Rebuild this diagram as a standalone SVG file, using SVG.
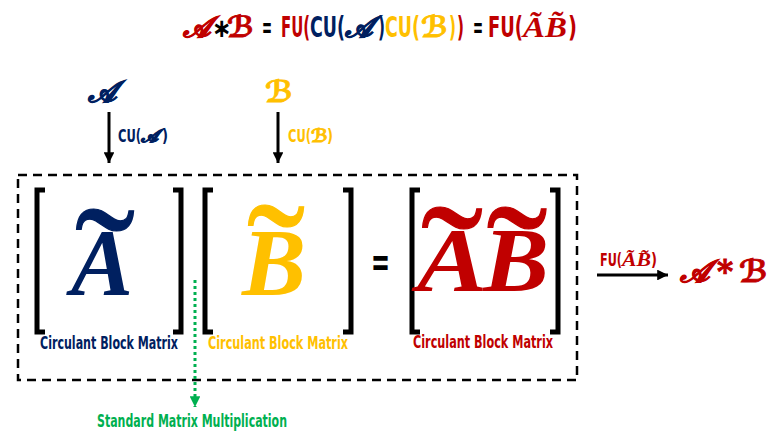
<svg xmlns="http://www.w3.org/2000/svg" width="768" height="434" viewBox="0 0 768 434">
<defs>
<style>
text{stroke-width:0}
.cond{font-family:'Liberation Sans Narrow','DejaVu Sans Condensed','DejaVu Sans',sans-serif;font-weight:bold}
.scr{font-family:'DejaVu Serif','DejaVu Sans','Noto Sans',serif;font-style:italic;font-weight:bold;stroke-width:0.9}
.big{font-family:'Liberation Serif','DejaVu Serif',serif;font-style:italic;font-weight:bold}
.tl{font-family:'Liberation Serif','DejaVu Serif',serif;text-anchor:middle;stroke-width:1.2}
.red{fill:#C00000;stroke:#C00000}.blue{fill:#002060;stroke:#002060}.yel{fill:#FFC000;stroke:#FFC000}.grn{fill:#00B050}.blk{fill:#000}
.brk{fill:none;stroke:#000;stroke-width:5}
</style>
<marker id="ah" viewBox="0 0 10 10" refX="10" refY="5" markerWidth="3.6" markerHeight="3.6" orient="auto" markerUnits="strokeWidth"><path d="M0,0 L10,5 L0,10 Z" fill="#000"/></marker>
<marker id="ahg" viewBox="0 0 10 10" refX="10" refY="5" markerWidth="4" markerHeight="3.6" orient="auto" markerUnits="strokeWidth"><path d="M0,0 L10,5 L0,10 Z" fill="#00B050"/></marker>
</defs>
<g id="title">
<text x="183" y="37" font-size="29" class="scr red">𝒜</text>
<text x="212" y="37" font-size="26" class="cond blk">∗</text>
<text x="227" y="37" font-size="29" class="scr red">ℬ</text>
<text x="262" y="37" font-size="29" class="cond blk" textLength="10" lengthAdjust="spacingAndGlyphs">=</text>
<text x="281" y="37" font-size="29" class="cond red" textLength="29" lengthAdjust="spacingAndGlyphs">FU(</text>
<text x="310" y="37" font-size="29" class="cond blue" textLength="35" lengthAdjust="spacingAndGlyphs">CU(</text>
<text x="345" y="37" font-size="29" class="scr blue">𝒜</text>
<text x="378" y="37" font-size="29" class="cond blue" textLength="7" lengthAdjust="spacingAndGlyphs">)</text>
<text x="385" y="37" font-size="29" class="cond yel" textLength="35" lengthAdjust="spacingAndGlyphs">CU(</text>
<text x="421" y="37" font-size="29" class="scr yel">ℬ</text>
<text x="449" y="37" font-size="29" class="cond yel" textLength="7" lengthAdjust="spacingAndGlyphs">)</text>
<text x="457" y="37" font-size="29" class="cond red" textLength="7" lengthAdjust="spacingAndGlyphs">)</text>
<text x="473" y="37" font-size="29" class="cond blk" textLength="10" lengthAdjust="spacingAndGlyphs">=</text>
<text x="488" y="37" font-size="29" class="cond red" textLength="35" lengthAdjust="spacingAndGlyphs">FU(</text>
<text x="523" y="37" font-size="29" class="big red" textLength="44" lengthAdjust="spacingAndGlyphs">ÃB̃</text>
<text x="568" y="37" font-size="29" class="cond red" textLength="9" lengthAdjust="spacingAndGlyphs">)</text>
</g>
<g id="nodeA">
<text x="88" y="102" font-size="30" class="scr blue">𝒜</text>
</g>
<g id="nodeB">
<text x="265" y="102" font-size="30" class="scr yel">ℬ</text>
</g>
<g id="dashbox">
<rect x="18" y="175" width="559" height="205" fill="none" stroke="#000" stroke-width="2.5" stroke-dasharray="9,6"/>
</g>
<g id="matA">
<path class="brk" d="M45,190 H37 V332 H45"/>
<path class="brk" d="M173,190 H181 V332 H173"/>
<text x="71" y="295" font-size="95" class="big blue" textLength="62" lengthAdjust="spacingAndGlyphs">A</text>
<text x="105" y="324" font-size="170" class="tl blue" textLength="60" lengthAdjust="spacingAndGlyphs">˜</text>
<text x="40" y="349" font-size="18" class="cond blue" textLength="138" lengthAdjust="spacingAndGlyphs">Circulant Block Matrix</text>
</g>
<g id="matB">
<path class="brk" d="M213,190 H205 V332 H213"/>
<path class="brk" d="M343,190 H351 V332 H343"/>
<text x="242" y="295" font-size="95" class="big yel" textLength="64" lengthAdjust="spacingAndGlyphs">B</text>
<text x="276" y="320" font-size="170" class="tl yel" textLength="58" lengthAdjust="spacingAndGlyphs">˜</text>
<text x="208" y="349" font-size="18" class="cond yel" textLength="140" lengthAdjust="spacingAndGlyphs">Circulant Block Matrix</text>
</g>
<g id="eq">
<text x="371" y="276" font-size="40" class="cond blk" textLength="19" lengthAdjust="spacingAndGlyphs">=</text>
</g>
<g id="matAB">
<path class="brk" d="M420,190 H412 V332 H420"/>
<path class="brk" d="M550,190 H558 V332 H550"/>
<text x="417" y="291" font-size="92" class="big red" textLength="70" lengthAdjust="spacingAndGlyphs">A</text>
<text x="452" y="322" font-size="170" class="tl red" textLength="62" lengthAdjust="spacingAndGlyphs">˜</text>
<text x="483" y="291" font-size="92" class="big red" textLength="66" lengthAdjust="spacingAndGlyphs">B</text>
<text x="517" y="322" font-size="170" class="tl red" textLength="61" lengthAdjust="spacingAndGlyphs">˜</text>
<text x="413" y="348" font-size="18" class="cond red" textLength="140" lengthAdjust="spacingAndGlyphs">Circulant Block Matrix</text>
</g>
<g id="result">
<text y="282" font-size="31" class="scr red"><tspan x="680">𝒜</tspan><tspan x="717">*</tspan><tspan x="739">ℬ</tspan></text>
</g>
<g id="smm">
<text x="97" y="427" font-size="18" class="cond grn" textLength="190" lengthAdjust="spacingAndGlyphs">Standard Matrix Multiplication</text>
</g>
<g id="connectors">
<line x1="109" y1="112" x2="109" y2="163" stroke="#000" stroke-width="3" marker-end="url(#ah)"/>
<text x="118" y="142" font-size="18" class="cond blue" textLength="23" lengthAdjust="spacingAndGlyphs">CU(</text>
<text x="141" y="142" font-size="18" class="scr blue">𝒜</text>
<text x="162" y="142" font-size="18" class="cond blue" textLength="6" lengthAdjust="spacingAndGlyphs">)</text>
<line x1="278" y1="112" x2="278" y2="163" stroke="#000" stroke-width="3" marker-end="url(#ah)"/>
<text x="288" y="142" font-size="18" class="cond yel" textLength="23" lengthAdjust="spacingAndGlyphs">CU(</text>
<text x="311" y="142" font-size="18" class="scr yel">ℬ</text>
<text x="327" y="142" font-size="18" class="cond yel" textLength="6" lengthAdjust="spacingAndGlyphs">)</text>
<line x1="597" y1="275" x2="668" y2="275" stroke="#000" stroke-width="3" marker-end="url(#ah)"/>
<text x="600" y="266" font-size="18" class="cond red" textLength="22" lengthAdjust="spacingAndGlyphs">FU(</text>
<text x="622" y="266" font-size="18" class="big red" textLength="29" lengthAdjust="spacingAndGlyphs">ÃB̃</text>
<text x="651" y="266" font-size="18" class="cond red" textLength="6" lengthAdjust="spacingAndGlyphs">)</text>
<line x1="195" y1="280" x2="195" y2="407" stroke="#00B050" stroke-width="3" stroke-dasharray="3,3" marker-end="url(#ahg)"/>
</g>
</svg>
